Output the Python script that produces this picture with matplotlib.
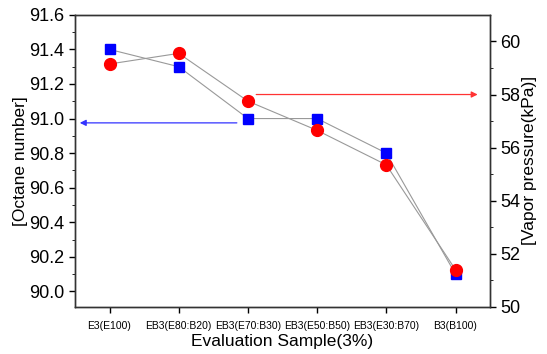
import matplotlib.pyplot as plt

plt.rcParams['font.family'] = ['Liberation Sans', 'DejaVu Sans']

# data
samples = ["E3(E100)", "EB3(E80:B20)", "EB3(E70:B30)", "EB3(E50:B50)", "EB3(E30:B70)", "B3(B100)"]
octane = [91.4, 91.3, 91.0, 91.0, 90.8, 90.1]
vapor = [59.15, 59.55, 57.75, 56.65, 55.35, 51.4]

x = list(range(len(samples)))

fig, ax = plt.subplots(figsize=(5.47, 3.54), dpi=100)
fig.subplots_adjust(left=0.137, right=0.896, top=0.958, bottom=0.133)
ax2 = ax.twinx()

ax.plot(x, octane, color="#999999", lw=0.8, marker="s", ms=7.5,
        mfc="#0000ff", mec="#0000ff", zorder=3)
ax2.plot(x, vapor, color="#999999", lw=0.8, marker="o", ms=8.5,
         mfc="#ff0000", mec="#ff0000", zorder=3)

ax.set_xlim(-0.5, 5.5)
ax.set_ylim(89.91, 91.6)
ax2.set_ylim(50, 61)

ax.set_xticks(x)
ax.set_xticklabels(samples, fontsize=7.5)
ax.set_yticks([90.0, 90.2, 90.4, 90.6, 90.8, 91.0, 91.2, 91.4, 91.6])
ax.set_yticks([90.1, 90.3, 90.5, 90.7, 90.9, 91.1, 91.3, 91.5], minor=True)
ax.yaxis.set_major_formatter(plt.FormatStrFormatter("%.1f"))
ax2.set_yticks([50, 52, 54, 56, 58, 60])
ax2.set_yticks([51, 53, 55, 57, 59], minor=True)

ax.tick_params(axis="y", labelsize=13, length=4, width=1, direction="out")
ax.tick_params(axis="y", which="minor", length=2.5)
ax.tick_params(axis="x", length=4, width=1, direction="out", pad=6)
ax2.tick_params(axis="y", labelsize=13, length=4, width=1, direction="out")
ax2.tick_params(axis="y", which="minor", length=2.5)

for a in (ax, ax2):
    for s in a.spines.values():
        s.set_linewidth(1.0)
        s.set_color("#333333")

ax.set_xlabel("Evaluation Sample(3%)", fontsize=12.5, labelpad=2)
ax.set_ylabel("[Octane number]", fontsize=12.5, labelpad=1)
ax2.set_ylabel("[Vapor pressure(kPa)]", fontsize=12.5, labelpad=1)

# arrows pointing to the matching axis
ax.annotate("", xy=(-0.43, 90.975), xytext=(1.84, 90.975),
            arrowprops=dict(arrowstyle="-|>", color="#3333ff", lw=0.9,
                            mutation_scale=9, shrinkA=0, shrinkB=0))
ax2.annotate("", xy=(5.32, 58.0), xytext=(2.12, 58.0),
             arrowprops=dict(arrowstyle="-|>", color="#ff3333", lw=0.9,
                             mutation_scale=9, shrinkA=0, shrinkB=0))

plt.savefig("out.png", dpi=100)
